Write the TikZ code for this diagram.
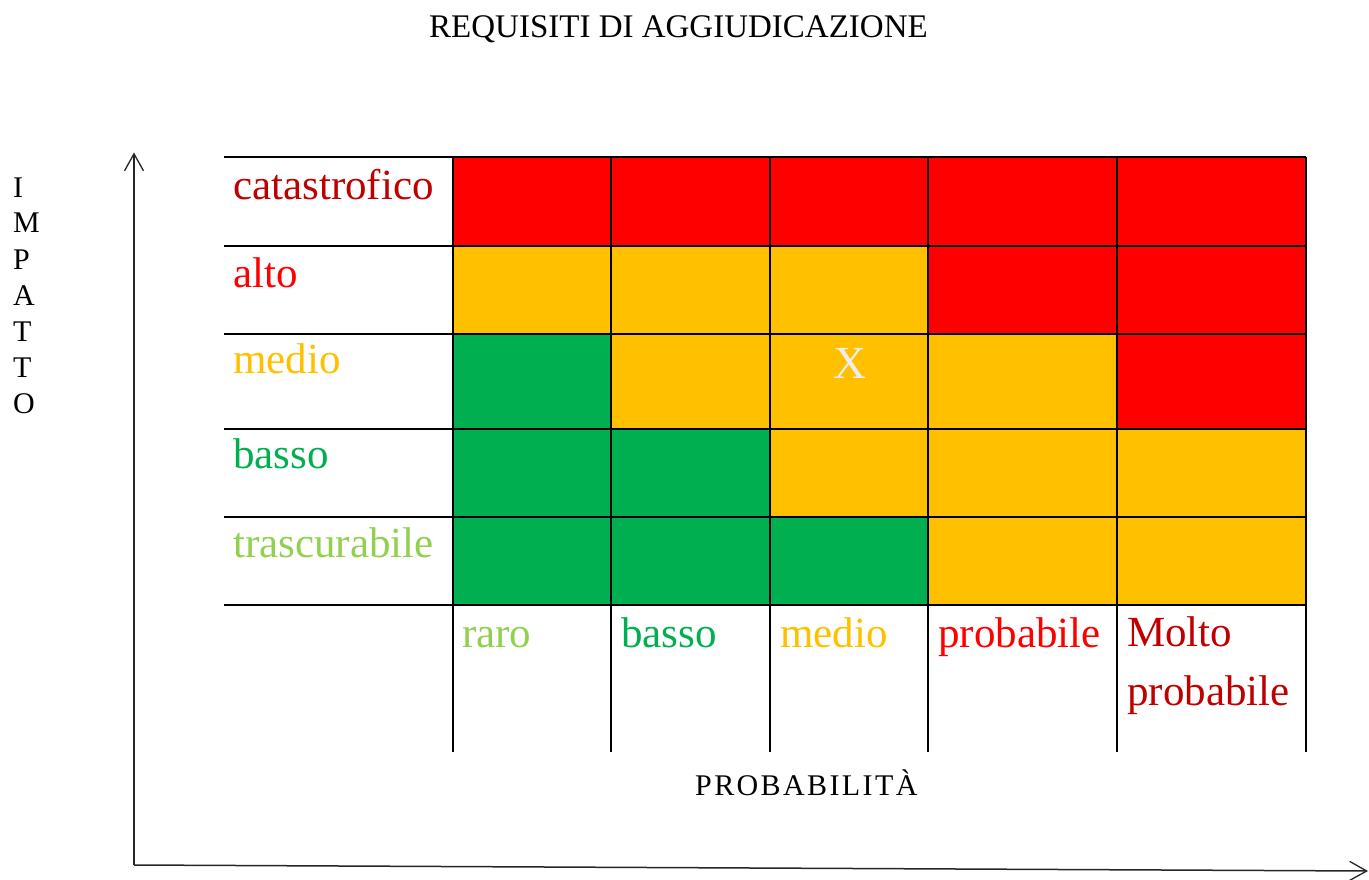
\documentclass[tikz,border=0pt]{standalone}
\usepackage{fontspec}
\setmainfont{Liberation Serif}
\newfontfamily\spacedfont[LetterSpace=8]{Liberation Serif}
\usetikzlibrary{arrows.meta}
\definecolor{cRed}{HTML}{FF0000}
\definecolor{cDark}{HTML}{C00000}
\definecolor{cOra}{HTML}{FFC000}
\definecolor{cGre}{HTML}{00B050}
\definecolor{cLig}{HTML}{92D050}
\definecolor{cX}{HTML}{EDEDED}
\begin{document}
\begin{tikzpicture}[x=1pt,y=-1pt,
  cell/.style={anchor=north west,inner sep=0pt,outer sep=0pt,minimum height=#1},
  gridline/.style={line width=2pt,black},
  axis/.style={line width=1.5pt,black!85,-{Straight Barb[length=17pt,width=19pt,line width=1.3pt]}},
  lab/.style={anchor=base west,inner sep=0pt,font=\fontsize{43}{59}\selectfont},
  vlet/.style={anchor=base west,inner sep=0pt,font=\fontsize{30}{36}\selectfont}
]
\useasboundingbox[fill=white] (0,0) rectangle (1369,880);
% column x positions and widths
\def\cA{453}\def\cB{611}\def\cC{770}\def\cD{928}\def\cE{1117}\def\cF{1306}
% rows: tops 157.5, 246, 334, 429, 517, bottom 605
\foreach \r/\top/\h/\ca/\cb/\cc/\cd/\ce in {
  1/157.5/88.5/cRed/cRed/cRed/cRed/cRed,
  2/246/88/cOra/cOra/cOra/cRed/cRed,
  3/334/95/cGre/cOra/cOra/cOra/cRed,
  4/429/88/cGre/cGre/cOra/cOra/cOra,
  5/517/88/cGre/cGre/cGre/cOra/cOra}{
  \node[cell=\h pt,fill=\ca,minimum width=158pt] (c\r a) at (\cA,\top) {};
  \node[cell=\h pt,fill=\cb,minimum width=159pt] (c\r b) at (\cB,\top) {};
  \node[cell=\h pt,fill=\cc,minimum width=158pt] (c\r c) at (\cC,\top) {};
  \node[cell=\h pt,fill=\cd,minimum width=189pt] (c\r d) at (\cD,\top) {};
  \node[cell=\h pt,fill=\ce,minimum width=189pt] (c\r e) at (\cE,\top) {};
}
% grid lines
\foreach \y in {157.5,246,334,429,517,605}
  \draw[gridline] (224,\y) -- (\cF,\y);
\foreach \x in {\cA,\cB,\cC,\cD,\cE,\cF}
  \draw[gridline] (\x,157.5) -- (\x,751.5);
% X mark
\node[inner sep=0pt,anchor=base,text=cX,font=\fontsize{46}{50}\selectfont] (xmark) at (850,378) {X};
% row labels
\node[lab,text=cDark] (lcat) at (233,200) {catastrofico};
\node[lab,text=cRed] (lalt) at (233,287) {alto};
\node[lab,text=cOra] (lmed) at (233,373) {medio};
\node[lab,text=cGre] (lbas) at (233,468) {basso};
\node[lab,text=cLig] (ltra) at (233,557) {trascurabile};
% column labels
\node[lab,text=cLig] (praro) at (462,647) {raro};
\node[lab,text=cGre] (pbas) at (621,647) {basso};
\node[lab,text=cOra] (pmed) at (780,647) {medio};
\node[lab,text=cRed] (pprob) at (938,647) {probabile};
\node[lab,text=cDark] (pmolto) at (1127,646) {Molto};
\node[lab,text=cDark] (pmolto2) at (1127,705) {probabile};
% titles
\node[inner sep=0pt,anchor=base,font=\fontsize{33}{40}\selectfont] (title) at (678.5,38) {REQUISITI DI AGGIUDICAZIONE};
\node[inner sep=0pt,anchor=base west,font=\spacedfont\fontsize{30}{36}\selectfont] (prob) at (695,795) {PROBABILITÀ};
\foreach \l [count=\i from 0] in {I,M,P,A,T,T,O}
  \node[vlet] (imp\i) at (13,197+36*\i) {\l};
% axes
\coordinate (orig) at (134,865);
\coordinate (ytop) at (134,152.5);
\coordinate (xend) at (1368,871);
\draw[axis] (orig) -- (ytop);
\draw[axis] (orig) -- (xend);
\end{tikzpicture}
\end{document}
